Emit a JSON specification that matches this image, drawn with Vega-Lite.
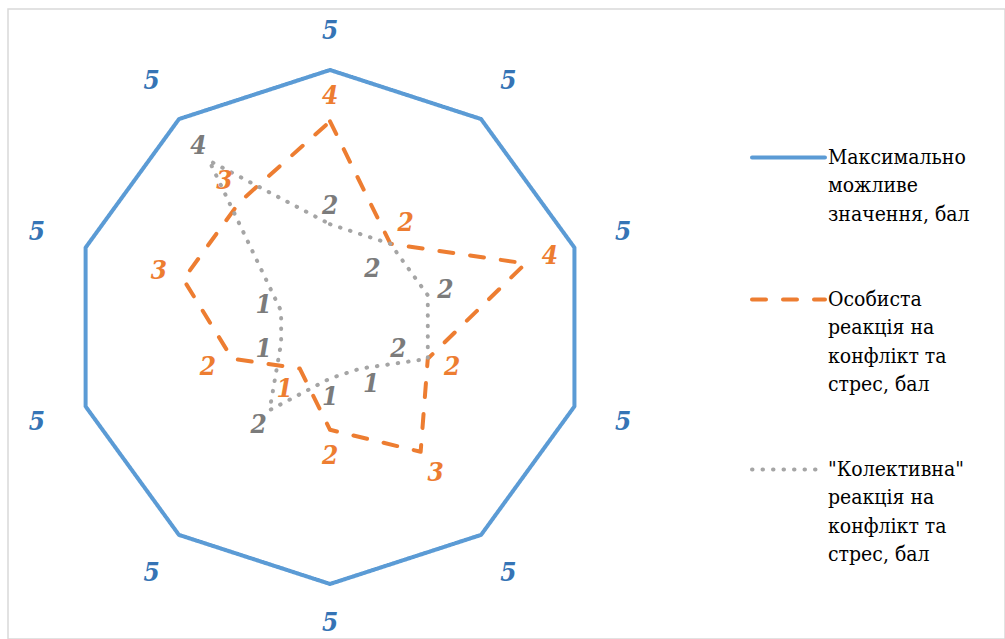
{
  "$schema": "https://vega.github.io/schema/vega-lite/v6.json",
  "width": 997,
  "height": 630,
  "autosize": {"type": "none"},
  "padding": {"left": 8, "top": 9, "right": 0, "bottom": 0},
  "background": "white",
  "config": {
    "view": {"stroke": "#d9d9d9", "strokeWidth": 1.5},
    "axis": {"domain": false, "grid": false, "ticks": false, "labels": false}
  },
  "data": {
    "values": [
      {"series": "Максимально можливе значення, бал", "axis": 0, "value": 5},
      {"series": "Максимально можливе значення, бал", "axis": 1, "value": 5},
      {"series": "Максимально можливе значення, бал", "axis": 2, "value": 5},
      {"series": "Максимально можливе значення, бал", "axis": 3, "value": 5},
      {"series": "Максимально можливе значення, бал", "axis": 4, "value": 5},
      {"series": "Максимально можливе значення, бал", "axis": 5, "value": 5},
      {"series": "Максимально можливе значення, бал", "axis": 6, "value": 5},
      {"series": "Максимально можливе значення, бал", "axis": 7, "value": 5},
      {"series": "Максимально можливе значення, бал", "axis": 8, "value": 5},
      {"series": "Максимально можливе значення, бал", "axis": 9, "value": 5},
      {"series": "Особиста реакція на конфлікт та стрес, бал", "axis": 0, "value": 4},
      {"series": "Особиста реакція на конфлікт та стрес, бал", "axis": 1, "value": 2},
      {"series": "Особиста реакція на конфлікт та стрес, бал", "axis": 2, "value": 4},
      {"series": "Особиста реакція на конфлікт та стрес, бал", "axis": 3, "value": 2},
      {"series": "Особиста реакція на конфлікт та стрес, бал", "axis": 4, "value": 3},
      {"series": "Особиста реакція на конфлікт та стрес, бал", "axis": 5, "value": 2},
      {"series": "Особиста реакція на конфлікт та стрес, бал", "axis": 6, "value": 1},
      {"series": "Особиста реакція на конфлікт та стрес, бал", "axis": 7, "value": 2},
      {"series": "Особиста реакція на конфлікт та стрес, бал", "axis": 8, "value": 3},
      {"series": "Особиста реакція на конфлікт та стрес, бал", "axis": 9, "value": 3},
      {"series": "\"Колективна\" реакція на конфлікт та стрес, бал", "axis": 0, "value": 2},
      {"series": "\"Колективна\" реакція на конфлікт та стрес, бал", "axis": 1, "value": 2},
      {"series": "\"Колективна\" реакція на конфлікт та стрес, бал", "axis": 2, "value": 2},
      {"series": "\"Колективна\" реакція на конфлікт та стрес, бал", "axis": 3, "value": 2},
      {"series": "\"Колективна\" реакція на конфлікт та стрес, бал", "axis": 4, "value": 1},
      {"series": "\"Колективна\" реакція на конфлікт та стрес, бал", "axis": 5, "value": 1},
      {"series": "\"Колективна\" реакція на конфлікт та стрес, бал", "axis": 6, "value": 2},
      {"series": "\"Колективна\" реакція на конфлікт та стрес, бал", "axis": 7, "value": 1},
      {"series": "\"Колективна\" реакція на конфлікт та стрес, бал", "axis": 8, "value": 1},
      {"series": "\"Колективна\" реакція на конфлікт та стрес, бал", "axis": 9, "value": 4}
    ]
  },
  "layer": [
    {
      "transform": [
        {"calculate": "datum.axis == 0 ? [0, 10] : [datum.axis]", "as": "ax"},
        {"flatten": ["ax"]},
        {"calculate": "datum.ax * PI / 5", "as": "ang"},
        {"calculate": "datum.value * sin(datum.ang)", "as": "px"},
        {"calculate": "datum.value * cos(datum.ang)", "as": "py"}
      ],
      "mark": {"type": "line", "strokeWidth": 4, "strokeCap": "round", "strokeJoin": "round"},
      "encoding": {
        "x": {"field": "px", "type": "quantitative", "scale": {"domain": [-6.265, 13.132], "nice": false, "zero": false}, "axis": null},
        "y": {"field": "py", "type": "quantitative", "scale": {"domain": [-6.07, 6.187], "nice": false, "zero": false}, "axis": null},
        "order": {"field": "ax", "type": "quantitative"},
        "stroke": {
          "field": "series", "type": "nominal",
          "scale": {
            "domain": ["Максимально можливе значення, бал", "Особиста реакція на конфлікт та стрес, бал", "\"Колективна\" реакція на конфлікт та стрес, бал"],
            "range": ["#5B9BD5", "#ED7D31", "#A5A5A5"]
          },
          "legend": {
            "orient": "none",
            "legendX": 742,
            "legendY": 110,
            "title": null,
            "padding": 0,
            "symbolType": "stroke",
            "symbolSize": 5329,
            "symbolStrokeWidth": 4,
            "labelFont": "DejaVu Serif Condensed, DejaVu Serif",
            "labelFontSize": 21,
            "labelColor": "black",
            "labelLimit": 400,
            "labelOffset": 1,
            "rowPadding": 36,
            "labelExpr": "datum.label == 'Максимально можливе значення, бал' ? ['Максимально', 'можливе', 'значення, бал'] : datum.label == 'Особиста реакція на конфлікт та стрес, бал' ? ['Особиста', 'реакція на', 'конфлікт та', 'стрес, бал'] : ['\"Колективна\"', 'реакція на', 'конфлікт та', 'стрес, бал']",
            "encode": {
              "labels": {"update": {"lineHeight": {"value": 28.5}}},
              "symbols": {"update": {"strokeCap": {"value": "round"}}}
            }
          }
        },
        "strokeDash": {
          "field": "series", "type": "nominal",
          "scale": {
            "domain": ["Максимально можливе значення, бал", "Особиста реакція на конфлікт та стрес, бал", "\"Колективна\" реакція на конфлікт та стрес, бал"],
            "range": [[1, 0], [14, 17], [0.5, 10]]
          }
        }
      }
    },
    {
      "transform": [
        {"joinaggregate": [{"op": "count", "as": "dup"}], "groupby": ["axis", "value"]},
        {"calculate": "datum.axis * PI / 5", "as": "ang"},
        {"calculate": "datum.value + (datum.series == 'Максимально можливе значення, бал' ? 0.76 + 0.25 * abs(sin(datum.ang)) : datum.series == 'Особиста реакція на конфлікт та стрес, бал' ? 0.5 : (datum.dup > 1 ? -0.6 : 0.36))", "as": "lr"},
        {"calculate": "datum.lr * sin(datum.ang)", "as": "tx"},
        {"calculate": "datum.lr * cos(datum.ang)", "as": "ty"}
      ],
      "mark": {"type": "text", "font": "DejaVu Serif Condensed, DejaVu Serif", "fontSize": 26, "fontWeight": "bold", "fontStyle": "italic", "align": "center", "baseline": "middle"},
      "encoding": {
        "x": {"field": "tx", "type": "quantitative"},
        "y": {"field": "ty", "type": "quantitative"},
        "text": {"field": "value", "type": "quantitative"},
        "fill": {
          "field": "series", "type": "nominal",
          "scale": {
            "domain": ["Максимально можливе значення, бал", "Особиста реакція на конфлікт та стрес, бал", "\"Колективна\" реакція на конфлікт та стрес, бал"],
            "range": ["#3574B5", "#ED7D31", "#7B7B7B"]
          },
          "legend": null
        }
      }
    }
  ]
}
